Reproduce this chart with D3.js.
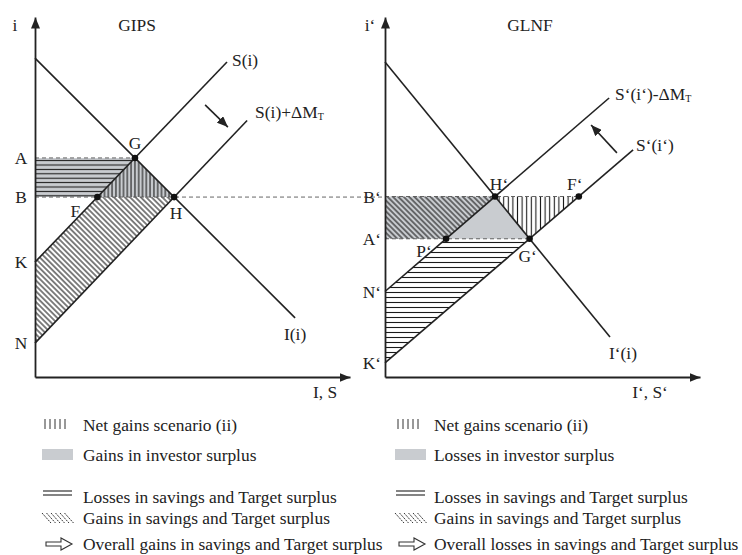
<!DOCTYPE html>
<html>
<head>
<meta charset="utf-8">
<script src="https://cdn.jsdelivr.net/npm/d3@7"></script>
<style>
  body { margin: 0; background: #fff; }
  svg text { font-family: "Liberation Serif", "Times New Roman", serif; font-size: 17.4px; fill: #222; }
</style>
</head>
<body>
<svg id="chart" width="742" height="555"></svg>
<script>
// curves in diagram units (x 0..10.5, y 0..12)
const gipsInvest = [[0, 10.63], [8.67, 1.97]];
const gipsSaving = [[0, 3.83], [6.4, 10.5]];
const gipsSavingShift = [[0, 1.13], [7.07, 8.55]];
const gipsShiftArrow = [[5.67, 9.07], [6.43, 8.33]];

const glnfInvest = [[0, 10.5], [7.5, 1.33]];
const glnfSaving = [[0, 0.47], [8.27, 7.57]];
const glnfSavingShift = [[0, 2.85], [7.47, 9.3]];
const glnfShiftArrow = [[7.73, 7.47], [6.87, 8.4]];

const legendKinds = ['vertical', 'grey', 'horizontal', 'diagonal', 'arrow'];
const legendGips = ['Net gains scenario (ii)', 'Gains in investor surplus',
  'Losses in savings and Target surplus', 'Gains in savings and Target surplus',
  'Overall gains in savings and Target surplus'];
const legendGlnf = ['Net gains scenario (ii)', 'Losses in investor surplus',
  'Losses in savings and Target surplus', 'Gains in savings and Target surplus',
  'Overall losses in savings and Target surplus'];

const INK = '#222';
const GREY = '#c9ccd0';

const svg = d3.select('#chart');
const defs = svg.append('defs');

const y = d3.scaleLinear().domain([0, 12]).range([377, 17]);
const xL = d3.scaleLinear().domain([0, 10.5]).range([35, 350]);
const xR = d3.scaleLinear().domain([0, 10.5]).range([385, 700]);

// hatch patterns
function hatch(id, size, d, rotate) {
  const p = defs.append('pattern').attr('id', id)
    .attr('patternUnits', 'userSpaceOnUse')
    .attr('width', size).attr('height', size);
  if (rotate) p.attr('patternTransform', `rotate(${rotate})`);
  p.append('path').attr('d', d).attr('stroke', '#1a1a1a').attr('stroke-width', 1.1).attr('fill', 'none');
}
hatch('vL', 3.8, 'M1.9,0V3.8');
hatch('vR', 4.6, 'M2.3,0V4.6');
hatch('hL', 4.4, 'M0,2.2H4.4');
hatch('hR', 5, 'M0,2.5H5');
hatch('dL', 3.8, 'M0,1.9H3.8', 45);
hatch('dR', 3.8, 'M0,1.9H3.8', 45);

function arrowMarker(id, len, wid) {
  defs.append('marker').attr('id', id)
    .attr('viewBox', `0 0 ${len} ${wid}`)
    .attr('markerUnits', 'userSpaceOnUse')
    .attr('markerWidth', len).attr('markerHeight', wid)
    .attr('refX', len).attr('refY', wid / 2)
    .attr('orient', 'auto')
    .append('path').attr('d', `M0,0L${len},${wid / 2}L0,${wid}Z`).attr('fill', INK);
}
arrowMarker('axisHead', 11, 9);
arrowMarker('shiftHead', 11, 9);

// line helpers
const slope = l => (l[1][1] - l[0][1]) / (l[1][0] - l[0][0]);
function meet(a, b) {
  const ma = slope(a), mb = slope(b);
  const ca = a[0][1] - ma * a[0][0], cb = b[0][1] - mb * b[0][0];
  const x = (cb - ca) / (ma - mb);
  return [x, ca + ma * x];
}
const xAtY = (l, v) => l[0][0] + (v - l[0][1]) / slope(l);

function panel(x, inv, sav, shift, arrow, pts, shades, labels) {
  const g = svg.append('g');
  const line = d3.line().x(d => x(d[0])).y(d => y(d[1]));

  shades.forEach(s => {
    g.append('path').attr('d', line(s.poly) + 'Z').attr('fill', s.fill).attr('stroke', 'none');
  });

  pts.dashes.forEach(d => {
    g.append('line')
      .attr('x1', x(d[0])).attr('x2', d[2] !== undefined ? d[2] : x(d[1][0]))
      .attr('y1', y(d[1][1])).attr('y2', y(d[1][1]))
      .attr('stroke', '#555').attr('stroke-width', 0.9).attr('stroke-dasharray', '4,3');
  });

  [inv, sav, shift].forEach(l => {
    g.append('path').attr('d', line(l)).attr('fill', 'none')
      .attr('stroke', INK).attr('stroke-width', 1.6);
  });

  g.append('path').attr('d', line(arrow)).attr('stroke', INK).attr('stroke-width', 1.6)
    .attr('marker-end', 'url(#shiftHead)');

  // axes (no ticks, just the arrowed domain lines)
  const ya = g.append('g').attr('transform', `translate(${x(0)},0)`)
    .call(d3.axisLeft(y).tickValues([]).tickSizeOuter(0));
  const xa = g.append('g').attr('transform', `translate(0,${y(0)})`)
    .call(d3.axisBottom(x).tickValues([]).tickSizeOuter(0));
  [ya, xa].forEach(a => a.select('.domain').attr('stroke', INK).attr('stroke-width', 1.8)
    .attr('marker-end', 'url(#axisHead)'));

  pts.dots.forEach(p => {
    g.append('circle').attr('cx', x(p[0])).attr('cy', y(p[1])).attr('r', 3.3).attr('fill', '#111');
  });

  labels.forEach(lb => {
    const t = g.append('text')
      .attr('x', lb.at ? x(lb.at[0]) + lb.dx : lb.px)
      .attr('y', lb.at ? y(lb.at[1]) + lb.dy : lb.py)
      .attr('text-anchor', lb.anchor || 'middle')
      .attr('dominant-baseline', 'central');
    t.append('tspan').text(lb.text);
    if (lb.sub) t.append('tspan').attr('font-size', '10px').attr('dy', 4).text(lb.sub);
  });
}

// GIPS
const G = meet(gipsInvest, gipsSaving);
const H = meet(gipsInvest, gipsSavingShift);
const F = [xAtY(gipsSaving, H[1]), H[1]];
const A = [0, G[1]], B = [0, H[1]];
const K = gipsSaving[0], N = gipsSavingShift[0];

panel(xL, gipsInvest, gipsSaving, gipsSavingShift, gipsShiftArrow,
  { dots: [G, F, H], dashes: [[0, G, undefined], [0, H, xR(0)]] },
  [
    { poly: [A, G, H, B], fill: GREY },
    { poly: [A, G, F, B], fill: 'url(#hL)' },
    { poly: [F, G, H], fill: 'url(#vL)' },
    { poly: [K, F, H, N], fill: 'url(#dL)' }
  ],
  [
    { text: 'i', px: 15, py: 25 },
    { text: 'GIPS', px: 137, py: 25 },
    { text: 'A', at: A, dx: -14, dy: 0 },
    { text: 'B', at: B, dx: -14, dy: 0 },
    { text: 'K', at: K, dx: -14, dy: 0 },
    { text: 'N', at: N, dx: -14, dy: 0 },
    { text: 'G', at: G, dx: 0, dy: -15 },
    { text: 'F', at: F, dx: -22, dy: 14 },
    { text: 'H', at: H, dx: 2, dy: 16 },
    { text: 'S(i)', at: gipsSaving[1], dx: 5, dy: -2, anchor: 'start' },
    { text: 'S(i)+\u0394M', sub: 'T', at: gipsSavingShift[1], dx: 8, dy: -9, anchor: 'start' },
    { text: 'I(i)', at: gipsInvest[1], dx: 0, dy: 16 },
    { text: 'I, S', px: 325, py: 392 }
  ]);

// GLNF
const Hp = meet(glnfInvest, glnfSavingShift);
const Gp = meet(glnfInvest, glnfSaving);
const Fp = [xAtY(glnfSaving, Hp[1]), Hp[1]];
const Pp = [xAtY(glnfSavingShift, Gp[1]), Gp[1]];
const Bp = [0, Hp[1]], Ap = [0, Gp[1]];
const Kp = glnfSaving[0], Np = glnfSavingShift[0];

panel(xR, glnfInvest, glnfSaving, glnfSavingShift, glnfShiftArrow,
  { dots: [Hp, Fp, Pp, Gp], dashes: [[0, Fp, undefined], [0, Gp, undefined]] },
  [
    { poly: [Bp, Hp, Gp, Ap], fill: GREY },
    { poly: [Bp, Hp, Pp, Ap], fill: 'url(#dR)' },
    { poly: [Hp, Fp, Gp], fill: 'url(#vR)' },
    { poly: [Pp, Gp, Kp, Np], fill: 'url(#hR)' }
  ],
  [
    { text: 'i\u2018', px: 370, py: 25 },
    { text: 'GLNF', px: 530, py: 25 },
    { text: 'B\u2018', at: Bp, dx: -13, dy: 0 },
    { text: 'A\u2018', at: Ap, dx: -13, dy: 0 },
    { text: 'N\u2018', at: Np, dx: -13, dy: 0 },
    { text: 'K\u2018', at: Kp, dx: -13, dy: 0 },
    { text: 'H\u2018', at: Hp, dx: 4, dy: -13 },
    { text: 'F\u2018', at: Fp, dx: -4, dy: -13 },
    { text: 'P\u2018', at: Pp, dx: -22, dy: 12 },
    { text: 'G\u2018', at: Gp, dx: -2, dy: 17 },
    { text: 'S\u2018(i\u2018)-\u0394M', sub: 'T', at: glnfSavingShift[1], dx: 6, dy: -4, anchor: 'start' },
    { text: 'S\u2018(i\u2018)', at: glnfSaving[1], dx: 3, dy: -5, anchor: 'start' },
    { text: 'I\u2018(i)', at: glnfInvest[1], dx: 13, dy: 16 },
    { text: 'I\u2018, S\u2018', px: 650, py: 392 }
  ]);

// legends
const rowY = [425, 455, 497, 518, 544];
function legend(items, sx, tx) {
  const g = svg.append('g');
  items.forEach((txt, i) => {
    const yy = rowY[i], kind = legendKinds[i];
    if (kind === 'vertical') {
      d3.range(5).forEach(k => g.append('line')
        .attr('x1', sx + 3 + k * 5).attr('x2', sx + 3 + k * 5)
        .attr('y1', yy - 6).attr('y2', yy + 4)
        .attr('stroke', '#333').attr('stroke-width', 1));
    } else if (kind === 'grey') {
      g.append('rect').attr('x', sx).attr('y', yy - 6).attr('width', 31).attr('height', 11).attr('fill', GREY);
    } else if (kind === 'horizontal') {
      [-6, -2].forEach(o => g.append('line').attr('x1', sx + 1).attr('x2', sx + 30)
        .attr('y1', yy + o).attr('y2', yy + o).attr('stroke', '#333').attr('stroke-width', 1.2));
    } else if (kind === 'diagonal') {
      d3.range(6).forEach(k => g.append('line')
        .attr('x1', sx + k * 4.5).attr('x2', sx + k * 4.5 + 9)
        .attr('y1', yy - 5).attr('y2', yy + 5)
        .attr('stroke', '#333').attr('stroke-width', 1).attr('stroke-dasharray', '2,1'));
    } else {
      const x0 = sx + 4;
      g.append('path')
        .attr('d', `M${x0},${yy - 2}H${x0 + 15}V${yy - 6}L${x0 + 26},${yy}L${x0 + 15},${yy + 6}V${yy + 2}H${x0}Z`)
        .attr('fill', '#fff').attr('stroke', '#333').attr('stroke-width', 1.1);
    }
    g.append('text').attr('x', tx).attr('y', yy).attr('dominant-baseline', 'central').text(txt);
  });
}
legend(legendGips, 42, 83);
legend(legendGlnf, 395, 434);
</script>
</body>
</html>
